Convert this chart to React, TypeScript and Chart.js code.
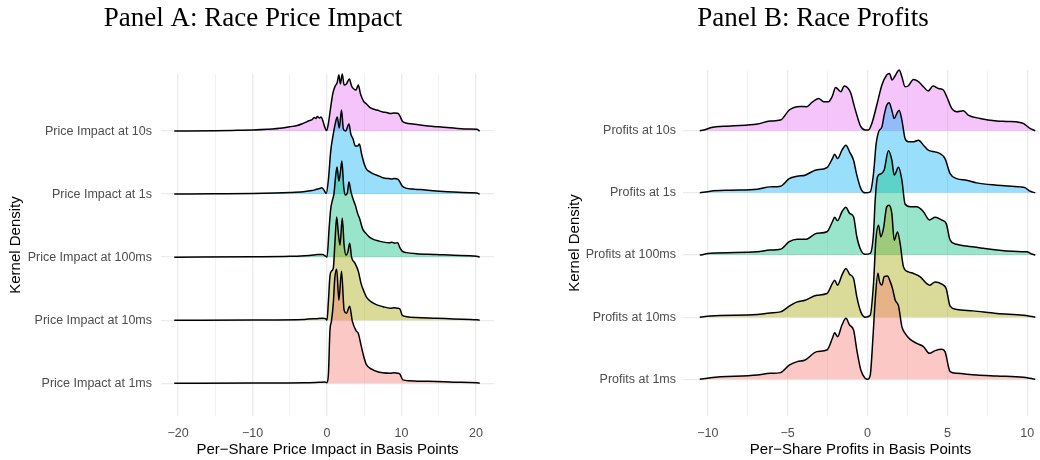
import React, { useEffect, useRef } from "react";
import { Chart, registerables } from "chart.js";

Chart.register(...registerables);

// ---------- Panel A: Race Price Impact (x in basis points, d = kernel density) ----------
const impactLabels = [
  "Price Impact at 1ms",
  "Price Impact at 10ms",
  "Price Impact at 100ms",
  "Price Impact at 1s",
  "Price Impact at 10s",
];
const impactTickValues = [-20, -10, 0, 10, 20];
const impactTickLabels = ["\u221220", "\u221210", "0", "10", "20"];

const impact1ms: [number, number][] = [
  [-20.5, 0], [-10, 0.002], [-3, 0.005], [-1, 0.01], [-0.3, 0.012], [0, 0.005], [0.2, 0.1],
  [0.4, 0.53], [0.6, 0.62], [0.85, 0.8], [1.05, 1.05], [1.3, 1.14], [1.6, 0.83], [1.95, 1.12],
  [2.3, 0.73], [2.6, 0.7], [3.05, 0.77], [3.4, 0.62], [3.95, 0.52], [4.2, 0.5], [4.6, 0.37],
  [5.0, 0.25], [5.3, 0.185], [6.0, 0.14], [6.7, 0.117], [7.5, 0.105], [8.5, 0.1], [9.0, 0.105],
  [9.5, 0.1], [9.8, 0.09], [10.2, 0.033], [11, 0.025], [12.5, 0.02], [14.7, 0.017], [17, 0.01],
  [20.1, 0.005], [20.5, 0],
];
const impact10ms: [number, number][] = [
  [-20.5, 0], [-10, 0.002], [-3, 0.008], [-1.5, 0.015], [-0.6, 0.02], [-0.2, 0.015], [0, 0],
  [0.2, 0.2], [0.4, 0.44], [0.6, 0.49], [0.85, 0.52], [1.05, 0.75], [1.3, 1.03], [1.55, 0.85],
  [1.75, 0.75], [2.05, 1.02], [2.3, 0.75], [2.55, 0.65], [2.8, 0.68], [3.05, 0.77], [3.3, 0.63],
  [3.75, 0.57], [4.2, 0.49], [4.6, 0.36], [5.0, 0.28], [5.3, 0.23], [6.0, 0.18], [6.7, 0.153],
  [7.5, 0.135], [8.5, 0.12], [9.0, 0.125], [9.5, 0.12], [9.8, 0.11], [10.1, 0.05], [10.7, 0.035],
  [12, 0.027], [14.7, 0.02], [17, 0.012], [20.1, 0.004], [20.5, 0],
];
const impact100ms: [number, number][] = [
  [-20.5, 0], [-10, 0.003], [-5, 0.008], [-3, 0.015], [-1.8, 0.022], [-1.2, 0.027], [-0.6, 0.027],
  [-0.2, 0.01], [0, 0], [0.3, 0.3], [0.5, 0.48], [0.7, 0.56], [0.95, 0.64], [1.15, 0.8],
  [1.35, 0.9], [1.6, 0.76], [1.8, 0.85], [2.0, 0.96], [2.25, 0.7], [2.5, 0.62], [2.75, 0.65],
  [2.95, 0.75], [3.2, 0.66], [3.5, 0.58], [3.8, 0.52], [4.1, 0.44], [4.4, 0.38], [4.8, 0.28],
  [5.2, 0.24], [5.7, 0.2], [6.3, 0.175], [7.0, 0.16], [7.6, 0.15], [8.0, 0.145], [8.4, 0.143],
  [8.7, 0.15], [9.1, 0.14], [9.5, 0.145], [9.75, 0.1], [10.1, 0.06], [10.7, 0.045], [12, 0.035],
  [14.7, 0.027], [17, 0.018], [20.1, 0.01], [20.5, 0],
];
const impact1s: [number, number][] = [
  [-20.5, 0], [-15, 0.003], [-10, 0.006], [-7, 0.01], [-5, 0.015], [-3.2, 0.023], [-2, 0.035],
  [-1.4, 0.048], [-1.0, 0.055], [-0.7, 0.063], [-0.4, 0.04], [-0.1, 0.005], [0.2, 0.15],
  [0.5, 0.43], [0.8, 0.58], [1.1, 0.7], [1.38, 0.77], [1.65, 0.66], [1.95, 0.84], [2.2, 0.65],
  [2.5, 0.63], [2.95, 0.7], [3.2, 0.6], [3.5, 0.55], [3.8, 0.48], [4.1, 0.48], [4.35, 0.5],
  [4.65, 0.4], [5.0, 0.3], [5.3, 0.25], [5.8, 0.22], [6.3, 0.2], [7.0, 0.18], [7.6, 0.16],
  [8.3, 0.155], [8.7, 0.15], [9.0, 0.155], [9.5, 0.15], [9.8, 0.12], [10.1, 0.08], [10.6, 0.06],
  [11.5, 0.05], [12.5, 0.045], [14.7, 0.03], [17, 0.02], [19.2, 0.013], [20.1, 0.01], [20.5, 0],
];
const impact10s: [number, number][] = [
  [-20.5, 0], [-15, 0.003], [-12, 0.007], [-10, 0.01], [-8, 0.017], [-6, 0.03], [-5, 0.043],
  [-4, 0.055], [-3.2, 0.077], [-2.5, 0.1], [-2.0, 0.115], [-1.7, 0.135], [-1.5, 0.125],
  [-1.3, 0.145], [-1.0, 0.13], [-0.8, 0.14], [-0.5, 0.09], [-0.3, 0.04], [-0.05, 0.005],
  [0.2, 0.08], [0.5, 0.24], [0.8, 0.38], [1.1, 0.45], [1.35, 0.48], [1.6, 0.56], [1.8, 0.47],
  [2.05, 0.57], [2.3, 0.46], [2.6, 0.47], [3.0, 0.52], [3.3, 0.45], [3.6, 0.42], [3.9, 0.41],
  [4.2, 0.46], [4.5, 0.37], [4.9, 0.3], [5.3, 0.27], [5.7, 0.24], [6.2, 0.22], [6.7, 0.21],
  [7.5, 0.19], [8.0, 0.185], [8.5, 0.175], [9.0, 0.18], [9.5, 0.178], [9.8, 0.15], [10.1, 0.1],
  [10.6, 0.08], [11.5, 0.07], [12.5, 0.06], [14, 0.048], [15, 0.042], [17, 0.03], [19, 0.02],
  [20.1, 0.018], [20.5, 0],
];

// ---------- Panel B: Race Profits ----------
const profitLabels = [
  "Profits at 1ms",
  "Profits at 10ms",
  "Profits at 100ms",
  "Profits at 1s",
  "Profits at 10s",
];
const profitTickValues = [-10, -5, 0, 5, 10];
const profitTickLabels = ["\u221210", "\u22125", "0", "5", "10"];

const profit1ms: [number, number][] = [
  [-10.5, 0], [-9.83, 0.017], [-6.9, 0.043], [-6.1, 0.06], [-5.45, 0.067], [-4.9, 0.143],
  [-4.4, 0.177], [-3.9, 0.193], [-3.17, 0.277], [-2.54, 0.293], [-2.2, 0.41], [-2.06, 0.467],
  [-1.875, 0.427], [-1.6, 0.543], [-1.35, 0.61], [-1.125, 0.543], [-0.875, 0.493], [-0.67, 0.293],
  [-0.42, 0.093], [-0.15, 0.01], [0, 0], [0.17, 0.043], [0.33, 0.393], [0.48, 0.793], [0.65, 1.06],
  [0.75, 0.977], [0.9, 0.943], [1.04, 1.027], [1.25, 1.033], [1.42, 0.977], [1.56, 0.91],
  [1.73, 0.793], [1.94, 0.733], [2.15, 0.527], [2.35, 0.46], [2.67, 0.4], [3.08, 0.36],
  [3.5, 0.327], [3.875, 0.26], [4.23, 0.287], [4.65, 0.3], [4.85, 0.277], [5.17, 0.077],
  [5.58, 0.06], [6.83, 0.043], [8.1, 0.033], [9.75, 0.02], [10.17, 0.01], [10.5, 0],
];
const profit10ms: [number, number][] = [
  [-10.5, 0], [-9.83, 0.013], [-6.9, 0.027], [-6.1, 0.043], [-5.45, 0.053], [-4.9, 0.11],
  [-4.4, 0.153], [-3.9, 0.17], [-3.17, 0.22], [-2.54, 0.237], [-2.2, 0.337], [-2.06, 0.37],
  [-1.875, 0.32], [-1.6, 0.42], [-1.35, 0.487], [-1.125, 0.43], [-0.875, 0.387], [-0.67, 0.203],
  [-0.42, 0.053], [-0.15, 0], [0.17, 0.02], [0.375, 0.337], [0.52, 0.77], [0.69, 0.92],
  [0.83, 0.803], [1.0, 0.887], [1.2, 1.103], [1.35, 1.12], [1.52, 1.037], [1.67, 0.77],
  [1.875, 0.853], [2.04, 0.737], [2.25, 0.503], [2.56, 0.453], [2.875, 0.437], [3.3, 0.403],
  [3.7, 0.337], [3.9, 0.32], [4.23, 0.353], [4.65, 0.33], [4.92, 0.287], [5.17, 0.11],
  [5.58, 0.077], [6.6, 0.063], [8.1, 0.037], [9.75, 0.02], [10.17, 0.01], [10.5, 0],
];
const profit100ms: [number, number][] = [
  [-10.5, 0], [-9.83, 0.017], [-6.9, 0.033], [-6.1, 0.05], [-5.45, 0.057], [-4.9, 0.133],
  [-4.4, 0.157], [-3.9, 0.157], [-3.17, 0.217], [-2.54, 0.233], [-2.2, 0.333], [-2.06, 0.377],
  [-1.875, 0.343], [-1.6, 0.433], [-1.35, 0.477], [-1.125, 0.417], [-0.875, 0.383], [-0.67, 0.183],
  [-0.42, 0.05], [-0.15, 0.007], [0.17, 0.017], [0.375, 0.217], [0.48, 0.55], [0.625, 0.783],
  [0.8, 0.81], [1.04, 0.85], [1.31, 1.043], [1.52, 0.95], [1.67, 0.8], [1.94, 0.877],
  [2.15, 0.75], [2.35, 0.51], [2.67, 0.483], [3.08, 0.483], [3.5, 0.433], [3.875, 0.35],
  [4.23, 0.377], [4.65, 0.35], [4.92, 0.317], [5.17, 0.15], [5.58, 0.107], [6.2, 0.09],
  [7.25, 0.067], [8.1, 0.05], [9.65, 0.033], [9.96, 0.033], [10.27, 0.01], [10.5, 0],
];
const profit1s: [number, number][] = [
  [-10.5, 0], [-9.83, 0.017], [-8.6, 0.027], [-6.9, 0.037], [-6.1, 0.06], [-5.45, 0.067],
  [-4.9, 0.143], [-4.4, 0.167], [-3.9, 0.177], [-3.27, 0.227], [-2.54, 0.253], [-2.2, 0.343],
  [-2.06, 0.387], [-1.875, 0.343], [-1.6, 0.427], [-1.35, 0.477], [-1.125, 0.41], [-0.875, 0.327],
  [-0.67, 0.177], [-0.42, 0.043], [-0.15, 0], [0.17, 0.01], [0.375, 0.193], [0.54, 0.493],
  [0.69, 0.61], [0.9, 0.66], [1.04, 0.777], [1.2, 0.877], [1.35, 0.9], [1.52, 0.827],
  [1.67, 0.743], [1.83, 0.793], [1.98, 0.827], [2.15, 0.727], [2.35, 0.543], [2.56, 0.51],
  [2.875, 0.51], [3.19, 0.527], [3.5, 0.477], [3.8, 0.427], [4.23, 0.41], [4.54, 0.393],
  [4.85, 0.343], [5.17, 0.193], [5.58, 0.143], [6.2, 0.127], [6.83, 0.1], [8.1, 0.077],
  [9.54, 0.06], [9.85, 0.053], [10.17, 0.017], [10.5, 0],
];
const profit10s: [number, number][] = [
  [-10.5, 0], [-10.25, 0.007], [-9.83, 0.03], [-8.6, 0.047], [-6.9, 0.067], [-6.1, 0.097],
  [-5.45, 0.107], [-4.9, 0.207], [-4.6, 0.233], [-4.2, 0.243], [-3.8, 0.24], [-3.5, 0.28],
  [-3.06, 0.323], [-2.75, 0.29], [-2.45, 0.29], [-2.2, 0.347], [-2.0, 0.433], [-1.67, 0.39],
  [-1.46, 0.447], [-1.04, 0.373], [-0.875, 0.273], [-0.67, 0.157], [-0.42, 0.04], [-0.15, 0.007],
  [0.06, 0.007], [0.27, 0.073], [0.58, 0.257], [0.9, 0.457], [1.2, 0.557], [1.375, 0.573],
  [1.54, 0.507], [1.73, 0.55], [1.98, 0.607], [2.15, 0.54], [2.35, 0.44], [2.56, 0.45],
  [2.875, 0.513], [3.19, 0.49], [3.5, 0.44], [3.8, 0.397], [4.1, 0.447], [4.44, 0.423],
  [4.75, 0.407], [4.96, 0.34], [5.27, 0.223], [5.58, 0.19], [6.0, 0.2], [6.3, 0.157],
  [7.04, 0.123], [8.1, 0.097], [8.7, 0.093], [9.54, 0.083], [9.75, 0.073], [10.17, 0.023],
  [10.5, 0],
];

// ridge fill colours (1ms, 10ms, 100ms, 1s, 10s)
const ridgeFills = [
  "rgba(248,118,109,0.4)",
  "rgba(163,165,0,0.4)",
  "rgba(0,191,125,0.4)",
  "rgba(0,176,246,0.4)",
  "rgba(231,107,243,0.4)",
];

const SANS = "'Liberation Sans', Arial, Helvetica, sans-serif";
const SERIF = "'Liberation Serif', 'Times New Roman', serif";

interface PanelSpec {
  title: string;
  xTitle: string;
  labels: string[];
  series: [number, number][][];
  ridgeScale: number;
  xMin: number;
  xMax: number;
  yMin: number;
  yMax: number;
  xStep: number;
  tickValues: number[];
  tickLabels: string[];
  yAxisWidth: number;
  rightWidth: number;
  titlePadBottom: number;
  yTitlePadTop: number;
  yTickPad: number;
}

const tickIndex = (vals: number[], v: number) => vals.findIndex((t) => Math.abs(t - v) < 1e-6);

function makeConfig(p: PanelSpec): any {
  const datasets = p.series.map((pts, i) => ({
    label: p.labels[i],
    data: pts.map(([x, d]) => ({ x, y: i + d * p.ridgeScale })),
    yAxisID: "y",
    xAxisID: "x",
    fill: { value: i },
    backgroundColor: ridgeFills[i],
    borderColor: "#000000",
    borderWidth: 1.5,
    pointRadius: 0,
    cubicInterpolationMode: "monotone",
    clip: false,
  }));
  return {
    type: "line",
    data: { datasets },
    options: {
      animation: false,
      responsive: false,
      maintainAspectRatio: false,
      events: [],
      layout: { padding: 0 },
      plugins: {
        legend: { display: false },
        tooltip: { enabled: false },
        title: {
          display: true,
          text: p.title,
          color: "#000000",
          font: { family: SERIF, size: 27, weight: "normal", lineHeight: 1.2 },
          padding: { top: 2.8, bottom: p.titlePadBottom },
        },
      },
      scales: {
        x: {
          type: "linear",
          position: "bottom",
          min: p.xMin,
          max: p.xMax,
          border: { display: false },
          grid: {
            drawTicks: false,
            color: (ctx: any) =>
              ctx.tick && tickIndex(p.tickValues, ctx.tick.value) >= 0 ? "#EBEBEB" : "#F2F2F2",
            lineWidth: (ctx: any) =>
              ctx.tick && tickIndex(p.tickValues, ctx.tick.value) >= 0 ? 1.3 : 1,
          },
          ticks: {
            stepSize: p.xStep,
            includeBounds: false,
            autoSkip: false,
            maxRotation: 0,
            padding: 10.5,
            color: "#4D4D4D",
            font: { family: SANS, size: 12.5 },
            callback: (v: any) => {
              const k = tickIndex(p.tickValues, Number(v));
              return k >= 0 ? p.tickLabels[k] : "";
            },
          },
          title: {
            display: true,
            text: p.xTitle,
            color: "#000000",
            font: { family: SANS, size: 15, lineHeight: 1.2 },
            padding: { top: 0, bottom: 1 },
          },
          afterFit: (s: any) => {
            s.height = 44;
          },
        },
        y: {
          type: "linear",
          position: "left",
          min: p.yMin,
          max: p.yMax,
          border: { display: false },
          grid: { drawTicks: false, color: "#EBEBEB", lineWidth: 1.3 },
          ticks: {
            stepSize: 1,
            includeBounds: false,
            autoSkip: false,
            padding: p.yTickPad,
            color: "#4D4D4D",
            font: { family: SANS, size: 12.5 },
            callback: (v: any) => {
              const k = Math.round(Number(v));
              return Math.abs(k - Number(v)) < 1e-6 && p.labels[k] ? p.labels[k] : "";
            },
          },
          title: {
            display: true,
            text: "Kernel Density",
            color: "#000000",
            font: { family: SANS, size: 15, lineHeight: 1.2 },
            padding: { top: p.yTitlePadTop, bottom: 0 },
          },
          afterFit: (s: any) => {
            s.width = p.yAxisWidth;
          },
        },
        yR: {
          type: "linear",
          position: "right",
          display: true,
          grid: { display: false, drawOnChartArea: false },
          border: { display: false },
          ticks: { display: false },
          afterFit: (s: any) => {
            s.width = p.rightWidth;
          },
        },
      },
    },
  };
}

const panelA: PanelSpec = {
  title: "Panel A: Race Price Impact",
  xTitle: "Per\u2212Share Price Impact in Basis Points",
  labels: impactLabels,
  series: [impact1ms, impact10ms, impact100ms, impact1s, impact10s],
  ridgeScale: 100 / 63,
  xMin: -22.28,
  xMax: 22.42,
  yMin: -0.52,
  yMax: 4.905,
  xStep: 5,
  tickValues: impactTickValues,
  tickLabels: impactTickLabels,
  yAxisWidth: 161,
  rightWidth: 12,
  titlePadBottom: 38.8,
  yTitlePadTop: 7,
  yTickPad: 9,
};

const panelB: PanelSpec = {
  title: "Panel B: Race Profits",
  xTitle: "Per\u2212Share Profits in Basis Points",
  labels: profitLabels,
  series: [profit1ms, profit10ms, profit100ms, profit1s, profit10s],
  ridgeScale: 100 / 62.15,
  xMin: -11.55,
  xMax: 10.67,
  yMin: -0.59,
  yMax: 4.977,
  xStep: 2.5,
  tickValues: profitTickValues,
  tickLabels: profitTickLabels,
  yAxisWidth: 118,
  rightWidth: 23,
  titlePadBottom: 34.8,
  yTitlePadTop: 1,
  yTickPad: 7,
};

function Panel({ spec, left, width }: { spec: PanelSpec; left: number; width: number }) {
  const ref = useRef<HTMLCanvasElement | null>(null);
  useEffect(() => {
    if (!ref.current) return;
    const chart = new Chart(ref.current, makeConfig(spec));
    return () => chart.destroy();
  }, [spec]);
  return (
    <canvas
      ref={ref}
      width={width}
      height={460}
      style={{ position: "absolute", left, top: 0, width, height: 460, display: "block" }}
    />
  );
}

export default function App() {
  return (
    <div
      style={{
        position: "fixed",
        left: 0,
        top: 0,
        width: 1040,
        height: 460,
        overflow: "hidden",
        background: "#ffffff",
      }}
    >
      <Panel spec={panelA} left={0} width={506} />
      <Panel spec={panelB} left={565} width={496} />
    </div>
  );
}
